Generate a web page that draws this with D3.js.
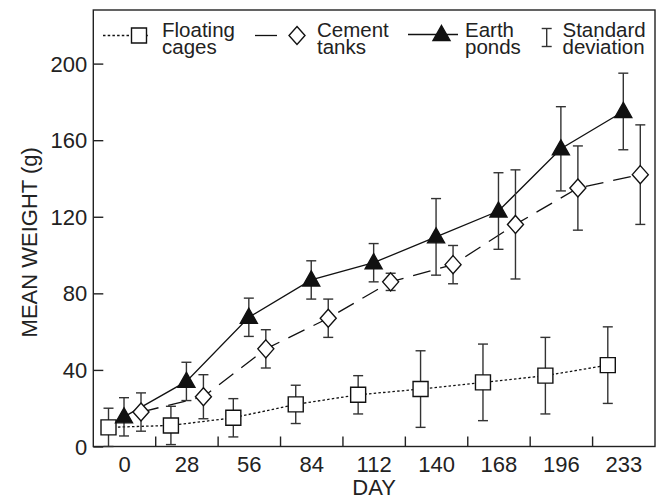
<!DOCTYPE html>
<html>
<head>
<meta charset="utf-8">
<script src="https://cdn.jsdelivr.net/npm/d3@7"></script>
<style>
  body { margin: 0; background: #fff; }
  svg { font-family: "Liberation Sans", Arial, sans-serif; }
</style>
</head>
<body>
<script>
// Chart data
const days = ["0", "28", "56", "84", "112", "140", "168", "196", "233"];

const floatingMean = [10, 11, 15, 22, 27, 30, 33.5, 37, 42.5];
const floatingSd   = [10, 10, 10, 10, 10, 20, 20, 20, 20];

const cementMean = [18, 26, 51, 67, 86, 95, 116, 135, 142];
const cementSd   = [10, 11.5, 10, 10, 4.5, 10, 28.5, 22, 26];

const earthMean = [15.5, 34, 67.5, 87, 96, 109.5, 123, 155.5, 175];
const earthSd   = [10, 10, 10, 10, 10, 20, 20, 22, 20];

const yTicks = [0, 40, 80, 120, 160, 200];

const legendItems = [
  ["Floating", "cages"],
  ["Cement", "tanks"],
  ["Earth", "ponds"],
  ["Standard", "deviation"]
];

const W = 662, H = 500;
const plotL = 93.3, plotR = 655, plotT = 10, plotB = 446.5;
const ink = "#222";

const svg = d3.select("body").append("svg")
  .attr("width", W)
  .attr("height", H);

const x = d3.scaleBand().domain(days).range([plotL, plotR]);
const y = d3.scaleLinear().domain([0, 228]).range([plotB, plotT]);

// series styles (offset inside each day band)
const series = [
  { mean: floatingMean, sd: floatingSd, dx: -16, dash: "2.5,2.2", marker: "square" },
  { mean: cementMean, sd: cementSd, dx: 16.5, dash: "18,10", marker: "diamond" },
  { mean: earthMean, sd: earthSd, dx: -0.5, dash: null, marker: "triangle" }
];

function markerPath(type) {
  if (type === "square") return "M-7.5,-7.5H7.5V7.5H-7.5Z";
  if (type === "diamond") return "M0,-9L8,0L0,9L-8,0Z";
  return "M0,-9L8.5,6L-8.5,6Z";
}

function drawMarker(g, type, cx, cy) {
  g.append("path")
    .attr("d", markerPath(type))
    .attr("transform", `translate(${cx},${cy})`)
    .attr("fill", type === "triangle" ? "#111" : "#fff")
    .attr("stroke", "#111")
    .attr("stroke-width", 1.4)
    .attr("stroke-linejoin", "miter");
}

// frame
svg.append("rect")
  .attr("x", plotL).attr("y", plotT)
  .attr("width", plotR - plotL).attr("height", plotB - plotT)
  .attr("fill", "none").attr("stroke", ink).attr("stroke-width", 1.4);

// y axis ticks (inside)
const yAxis = svg.append("g")
  .attr("transform", `translate(${plotL},0)`)
  .call(d3.axisRight(y).tickValues(yTicks).tickSize(10).tickFormat(""));
yAxis.select(".domain").remove();
yAxis.selectAll("line").attr("stroke", ink).attr("stroke-width", 1.4);

svg.append("g").selectAll("text")
  .data(yTicks)
  .join("text")
  .attr("x", plotL - 6)
  .attr("y", d => y(d) + 8)
  .attr("text-anchor", "end")
  .attr("font-size", 22)
  .attr("fill", ink)
  .text(d => d);

// x axis: ticks at band boundaries, labels at band centres
const bounds = days.slice(1).map(d => x(d));
svg.append("g").selectAll("line")
  .data(bounds)
  .join("line")
  .attr("x1", d => d).attr("x2", d => d)
  .attr("y1", plotB).attr("y2", plotB - 10)
  .attr("stroke", ink).attr("stroke-width", 1.4);

svg.append("g").selectAll("text")
  .data(days)
  .join("text")
  .attr("x", d => x(d) + x.bandwidth() / 2)
  .attr("y", 472)
  .attr("text-anchor", "middle")
  .attr("font-size", 22)
  .attr("fill", ink)
  .text(d => d);

svg.append("text")
  .attr("x", (plotL + plotR) / 2)
  .attr("y", 495)
  .attr("text-anchor", "middle")
  .attr("font-size", 22)
  .attr("fill", ink)
  .text("DAY");

svg.append("text")
  .attr("transform", `translate(37,${(plotT + plotB) / 2 + 14}) rotate(-90)`)
  .attr("text-anchor", "middle")
  .attr("font-size", 22)
  .attr("fill", ink)
  .text("MEAN WEIGHT (g)");

// lines
const line = d3.line();
series.forEach(s => {
  const pts = days.map((d, i) => [x(d) + x.bandwidth() / 2 + s.dx, y(s.mean[i])]);
  svg.append("path")
    .attr("d", line(pts))
    .attr("fill", "none")
    .attr("stroke", "#111")
    .attr("stroke-width", 1.3)
    .attr("stroke-dasharray", s.dash);
});

// error bars
series.forEach(s => {
  const g = svg.append("g").attr("stroke", "#333").attr("stroke-width", 1.4);
  days.forEach((d, i) => {
    const cx = x(d) + x.bandwidth() / 2 + s.dx;
    const y0 = y(s.mean[i] - s.sd[i]), y1 = y(s.mean[i] + s.sd[i]);
    g.append("line").attr("x1", cx).attr("x2", cx).attr("y1", y0).attr("y2", y1);
    g.append("line").attr("x1", cx - 5).attr("x2", cx + 5).attr("y1", y0).attr("y2", y0);
    g.append("line").attr("x1", cx - 5).attr("x2", cx + 5).attr("y1", y1).attr("y2", y1);
  });
});

// markers
series.forEach(s => {
  const g = svg.append("g");
  days.forEach((d, i) => {
    drawMarker(g, s.marker, x(d) + x.bandwidth() / 2 + s.dx, y(s.mean[i]));
  });
});

// legend
const lg = svg.append("g");
const lineY = 35.5;
lg.append("line").attr("x1", 103).attr("x2", 150).attr("y1", lineY).attr("y2", lineY)
  .attr("stroke", "#111").attr("stroke-width", 1.3).attr("stroke-dasharray", "2.5,2.2");
drawMarker(lg, "square", 139, lineY);
lg.append("line").attr("x1", 255).attr("x2", 277).attr("y1", lineY).attr("y2", lineY)
  .attr("stroke", "#111").attr("stroke-width", 1.3);
drawMarker(lg, "diamond", 297, lineY);
lg.append("line").attr("x1", 408).attr("x2", 458).attr("y1", lineY - 1).attr("y2", lineY - 1)
  .attr("stroke", "#111").attr("stroke-width", 1.3);
drawMarker(lg, "triangle", 441.5, lineY - 1);
const eb = lg.append("g").attr("stroke", "#333").attr("stroke-width", 1.4);
eb.append("line").attr("x1", 546.7).attr("x2", 546.7).attr("y1", 28.5).attr("y2", 46.5);
eb.append("line").attr("x1", 541.7).attr("x2", 551.7).attr("y1", 28.5).attr("y2", 28.5);
eb.append("line").attr("x1", 541.7).attr("x2", 551.7).attr("y1", 46.5).attr("y2", 46.5);

// two-line legend labels, set tight as in the original
const legendX = [162, 317, 465, 562.5];
legendItems.forEach((lines, i) => {
  const t = lg.append("text")
    .attr("x", legendX[i])
    .attr("font-size", 20.5)
    .attr("fill", ink);
  lines.forEach((s, j) => {
    t.append("tspan").attr("x", legendX[i]).attr("y", 37 + j * 17).text(s);
  });
});
</script>
</body>
</html>
